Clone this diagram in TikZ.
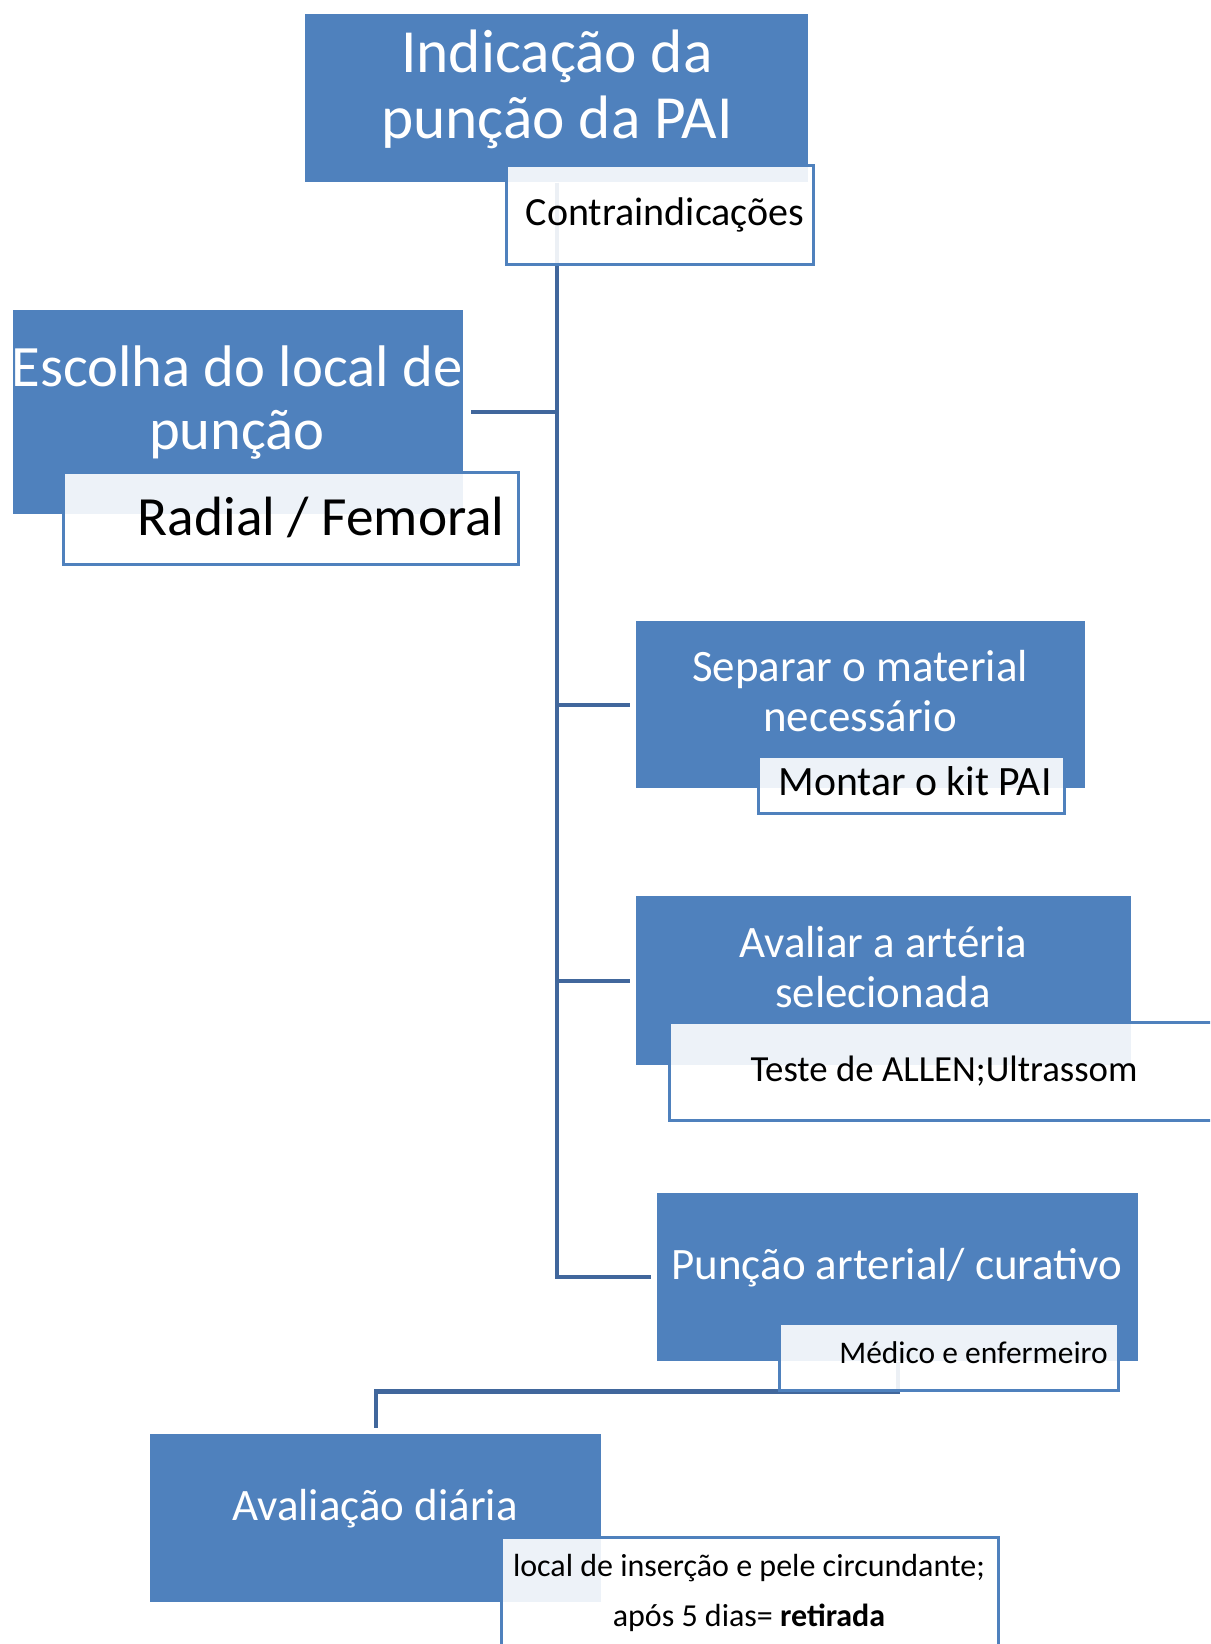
\documentclass[tikz,border=0pt]{standalone}
\usepackage{fontspec}
\setmainfont{Carlito}
\usetikzlibrary{backgrounds}
\definecolor{smartblue}{RGB}{79,129,189}
\definecolor{linkblue}{RGB}{65,103,156}

\begin{document}
\begin{tikzpicture}[x=0.75pt, y=-0.75pt]

\tikzstyle{box1}=[rectangle, fill=smartblue, anchor=north west, inner sep=0pt]
\tikzstyle{box2}=[rectangle, draw=smartblue, line width=2.6pt, fill=white, fill opacity=0.9, anchor=north west, inner sep=0pt]
\tikzstyle{txt1}=[text=white, align=center, inner sep=0pt, anchor=base]
\tikzstyle{txt2}=[text=black, align=center, inner sep=0pt, anchor=base]
\tikzstyle{link}=[draw=linkblue, line width=3.2pt]

\useasboundingbox (0,0) rectangle (1210,1644);
\clip (0,0) rectangle (1210,1644);

% main steps
\node (A) [box1, minimum width=503*0.75pt, minimum height=168*0.75pt] at (305,14) {};
\node (B) [box1, minimum width=450*0.75pt, minimum height=204*0.75pt] at (13,310) {};
\node (C) [box1, minimum width=449*0.75pt, minimum height=167*0.75pt] at (636,621) {};
\node (D) [box1, minimum width=495*0.75pt, minimum height=169*0.75pt] at (636,896) {};
\node (E) [box1, minimum width=481*0.75pt, minimum height=168*0.75pt] at (657,1193) {};
\node (F) [box1, minimum width=451*0.75pt, minimum height=168*0.75pt] at (150,1434) {};

% details
\node (A1) [box2, minimum width=307*0.75pt, minimum height=99*0.75pt] at (505,164) {};
\node (B1) [box2, minimum width=455*0.75pt, minimum height=92*0.75pt] at (61.5,470.5) {};
\node (C1) [box2, minimum width=306*0.75pt, minimum height=57*0.75pt] at (756.5,754.5) {};
\node (D1) [box2, minimum width=551*0.75pt, minimum height=98*0.75pt] at (667.5,1020.5) {};
\node (E1) [box2, minimum width=339*0.75pt, minimum height=67*0.75pt] at (777.5,1321.5) {};
\node (F1) [box2, minimum width=497*0.75pt, minimum height=143*0.75pt] at (499.5,1535.5) {};

% texts (base = last line)
\node (At) [txt1, font=\fontsize{46}{49.5}\selectfont] at (557,139) {Indicação da\\punção da PAI};
\node (Bt) [txt1, font=\fontsize{44}{47}\selectfont] at (237,449) {Escolha do local de\\punção};
\node (Ct) [txt1, font=\fontsize{33.7}{36.8}\selectfont] at (860,731) {Separar o material\\necessário};
\node (Dt) [txt1, font=\fontsize{33.7}{36.8}\selectfont] at (883,1007) {Avaliar a artéria\\selecionada};
\node (Et) [txt1, font=\fontsize{33.7}{36.8}\selectfont] at (897,1279) {Punção arterial/ curativo};
\node (Ft) [txt1, font=\fontsize{33.7}{36.8}\selectfont] at (375,1520) {Avaliação diária};

\node (A1t) [txt2, font=\fontsize{30}{36}\selectfont] at (665,226) {Contraindicações};
\node (B1t) [txt2, anchor=base east, font=\fontsize{41.5}{48}\selectfont] at (505,535) {Radial / Femoral};
\node (C1t) [txt2, font=\fontsize{31.3}{36}\selectfont] at (915,795) {Montar o kit PAI};
\node (D1t) [txt2, font=\fontsize{27.6}{33}\selectfont] at (944,1081) {Teste de ALLEN;Ultrassom};
\node (E1t) [txt2, anchor=base east, font=\fontsize{23.6}{28}\selectfont] at (1108,1363) {Médico e enfermeiro};
\node (F1t) [txt2, font=\fontsize{24}{37.5}\selectfont] at (749,1626) {local de inserção e pele circundante;\\após 5 dias= \textbf{retirada}};

% connectors
\begin{scope}[on background layer]
\draw [link] (A.south) |- ([shift={(-6,0)}]E.west);
\draw [link] (A.south |- B.east) -- ([shift={(7,0)}]B.east);
\draw [link] (A.south |- C.west) -- ([shift={(-6,0)}]C.west);
\draw [link] (A.south |- D.west) -- ([shift={(-6,0)}]D.west);
\draw [link] (E.south) -- ++(0,30) -| ([shift={(0,-6)}]F.north);
\end{scope}

\end{tikzpicture}
\end{document}
